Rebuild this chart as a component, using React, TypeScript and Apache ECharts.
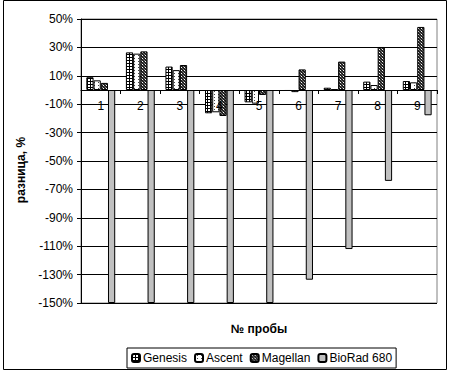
import React, { useEffect, useRef } from "react";
import * as echarts from "echarts";

const categories = ["1", "2", "3", "4", "5", "6", "7", "8", "9"];
const seriesNames = ["Genesis", "Ascent", "Magellan", "BioRad 680"];
const genesis = [9, 26.5, 16.5, -16.4, -8.7, -0.7, 1.6, 5.9, 6.3];
const ascent = [6.8, 25.6, 14, -15.7, -9.6, -1.5, 0.5, 3.5, 5.4];
const magellan = [5, 27.2, 17.6, -18.3, -3.5, 14.5, 20, 30.3, 44.4];
const biorad = [-150, -150, -150, -150, -150, -133.6, -112, -64, -17.8];
const yMin = -150;
const yMax = 50;
const yStep = 20;

const FONT = "'Liberation Sans', Arial, sans-serif";

function makeTile(w: number, h: number, bg: string, px: Array<[number, number, string]>) {
  const c = document.createElement("canvas");
  c.width = w;
  c.height = h;
  const ctx = c.getContext("2d")!;
  ctx.fillStyle = bg;
  ctx.fillRect(0, 0, w, h);
  for (const [x, y, col] of px) {
    ctx.fillStyle = col;
    ctx.fillRect(x, y, 1, 1);
  }
  return { image: c, repeat: "repeat" } as any;
}

const GRID_TOP = 19;
const GRID_BOTTOM = 69;
const H = 372;

export default function App() {
  const ref = useRef<HTMLDivElement>(null);
  useEffect(() => {
    if (!ref.current) return;
    const chart = echarts.init(ref.current, null, { renderer: "svg" });

    const gridPat = makeTile(3, 3, "#ffffff", [
      [0, 0, "#000"], [1, 0, "#000"], [2, 0, "#000"], [0, 1, "#000"], [0, 2, "#000"],
    ]);
    const dotPat = makeTile(4, 3, "#ffffff", [[2, 1, "#444"]]);
    const darkPat = makeTile(3, 3, "#222222", [
      [1, 1, "#ffffff"], [0, 0, "#888888"], [2, 2, "#666666"],
    ]);
    const colors = [gridPat, dotPat, darkPat, "#C0C0C0"];
    const datas = [genesis, ascent, magellan, biorad];

    // place the category axis at value 0
    const plotH = H - GRID_TOP - GRID_BOTTOM;
    const zeroY = GRID_TOP + ((yMax - 0) / (yMax - yMin)) * plotH;
    const xOffset = zeroY - (H - GRID_BOTTOM);

    chart.setOption({
      animation: false,
      backgroundColor: "#ffffff",
      textStyle: { fontFamily: FONT },
      grid: {
        left: 81,
        right: 13,
        top: GRID_TOP,
        bottom: GRID_BOTTOM,
        show: true,
        borderColor: "#808080",
        borderWidth: 1,
        backgroundColor: "#ffffff",
        outerBoundsMode: "none",
        containLabel: false,
      },
      legend: {
        data: seriesNames,
        bottom: 4,
        left: 127,
        orient: "horizontal",
        itemWidth: 8,
        itemHeight: 8,
        itemGap: 7,
        padding: [4, 4],
        borderColor: "#000",
        borderWidth: 1,
        textStyle: { fontFamily: FONT, fontSize: 12, color: "#000", padding: [0, 0, 0, -2] },
      },
      xAxis: {
        type: "category",
        data: categories,
        offset: xOffset,
        z: 5,
        axisLine: { onZero: false, lineStyle: { color: "#000", width: 1 } },
        axisTick: { show: true, length: 4, lineStyle: { color: "#000" } },
        axisLabel: { fontFamily: FONT, fontSize: 12, color: "#000", margin: 10 },
        name: "№ пробы",
        nameLocation: "middle",
        nameGap: 233,
        nameTextStyle: { fontFamily: FONT, fontSize: 12, fontWeight: "bold", color: "#000" },
        splitLine: { show: false },
      },
      yAxis: {
        type: "value",
        min: yMin,
        max: yMax,
        interval: yStep,
        axisLine: { show: true, lineStyle: { color: "#000" } },
        axisTick: { show: true, length: 4, lineStyle: { color: "#000" } },
        axisLabel: {
          fontFamily: FONT,
          fontSize: 12,
          color: "#000",
          margin: 8,
          formatter: (v: number) => `${Math.round(v)}%`,
        },
        splitLine: { show: true, lineStyle: { color: "#000", width: 1 } },
        name: "разница, %",
        nameLocation: "middle",
        nameGap: 52,
        nameTextStyle: { fontFamily: FONT, fontSize: 12, fontWeight: "bold", color: "#000", padding: [0, 18, 0, 0] },
      },
      graphic: [
        {
          type: "rect",
          shape: { x: 3.5, y: 0.5, width: 443, height: 369 },
          style: { fill: "none", stroke: "#000", lineWidth: 1 },
          silent: true,
          z: 100,
        },
      ],
      series: seriesNames.map((name, i) => ({
        name,
        type: "bar",
        data: datas[i],
        barGap: "0%",
        barCategoryGap: "27%",
        itemStyle: { color: colors[i], borderColor: "#000", borderWidth: 1 },
        emphasis: { disabled: true },
      })),
    });
    return () => chart.dispose();
  }, []);
  return (
    <div
      ref={ref}
      style={{ position: "fixed", left: 0, top: 0, width: 450, height: 372 }}
    />
  );
}
